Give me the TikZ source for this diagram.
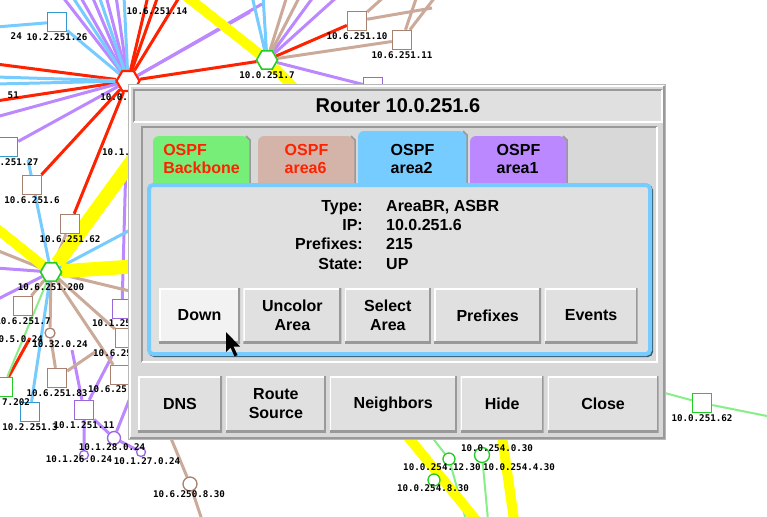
\documentclass[tikz,border=0pt]{standalone}
\usepackage{fontspec}
\setmainfont{Liberation Sans}
\newfontfamily\ipfont{DejaVu Sans Mono}
\usetikzlibrary{positioning,shapes.geometric}

\definecolor{ospfred}{HTML}{FF2200}
\definecolor{ospfgreen}{HTML}{77EE77}
\definecolor{hubgreen}{HTML}{22CC22}
\definecolor{linkgreen}{HTML}{88EE88}
\definecolor{ospftan}{HTML}{D4B4A8}
\definecolor{linktan}{HTML}{CCAA99}
\definecolor{sqtan}{HTML}{A88070}
\definecolor{ospfblue}{HTML}{77CCFF}
\definecolor{sqblue}{HTML}{3399CC}
\definecolor{ospfpurple}{HTML}{BB88FF}
\definecolor{sqpurple}{HTML}{9966DD}
\definecolor{linkyellow}{HTML}{FFFF00}
\definecolor{dlgframe}{HTML}{D8D8D8}
\definecolor{dlgpanel}{HTML}{E0E0E0}
\definecolor{dlglit}{HTML}{F2F2F2}
\definecolor{dlgshade}{HTML}{999999}

\pgfdeclarelayer{bg}
\pgfdeclarelayer{links}
\pgfsetlayers{bg,links,main}

\tikzset{hub/.style = {regular polygon, regular polygon sides=6, minimum size=21pt,
                       inner sep=0pt, draw=#1, line width=1.6pt, fill=white},
         hub/.default=hubgreen,
         rsq/.style = {rectangle, minimum size=19pt, inner sep=0pt, draw=#1,
                       line width=1.4pt, fill=white},
         rdot/.style = {circle, minimum size=12pt, inner sep=0pt, draw=#1,
                        line width=1.3pt, fill=white},
         ip/.style = {font=\ipfont\bfseries\fontsize{9.2}{10}\selectfont, inner sep=0pt},
         lnkbb/.style = {ospfred, line width=3pt},
         lnka6/.style = {linktan, line width=3pt},
         lnka2/.style = {ospfblue, line width=3pt},
         lnka1/.style = {ospfpurple, line width=3pt},
         lnkext/.style = {linkgreen, line width=2pt},
         lnkfat/.style = {linkyellow, line width=#1},
         lnkfat/.default=10pt
        }

\tikzset{dlgtext/.style = {font=\fontsize{16}{19}\selectfont\bfseries},
         btn/.style = {rectangle, fill=dlgpanel, inner sep=0pt, minimum height=55pt,
                       align=center, dlgtext,
                       path picture={
                         \draw[white, line width=3pt] (path picture bounding box.south west)
                           |- (path picture bounding box.north east);
                         \draw[dlgshade, line width=4pt] (path picture bounding box.south west)
                           -| (path picture bounding box.north east);}},
         tabtxt/.style = {align=left, inner sep=0pt, font=\fontsize{16}{18}\selectfont\bfseries},
         infokey/.style = {anchor=base east, inner sep=0pt, dlgtext},
         infoval/.style = {anchor=base west, inner sep=0pt, dlgtext}
        }

\begin{document}
\begin{tikzpicture}[x=1pt, y=-1pt]
  \begin{pgfonlayer}{bg}
    \fill[white] (0,0) rectangle (767,516);
  \end{pgfonlayer}
  \useasboundingbox (0,0) rectangle (767,516);

  % routers and networks of the map
  \node[hub=ospfred, minimum size=23pt, line width=2.2pt] (rtr) at (128,81) {};
  \node[hub] (g1) at (267,60) {};
  \node[hub] (g2) at (51,272) {};
  \node[rsq=sqblue] (b26) at (57,22) {};
  \node[rsq=sqblue] (b27) at (8,147) {};
  \node[rsq=sqtan] (t6) at (32,185) {};
  \node[rsq=sqtan] (t62) at (70,224) {};
  \node[rsq=sqtan] (t7) at (23,306) {};
  \node[rsq=sqpurple] (p25) at (122,309) {};
  \node[rdot=sqtan, minimum size=10pt] (c5) at (50,333) {};
  \node[rsq=sqtan] (t25) at (125,338) {};
  \node[rsq=hubgreen] (gs) at (3,387) {};
  \node[rsq=sqtan] (t83) at (57,378) {};
  \node[rsq=sqtan] (t37) at (120,375) {};
  \node[rsq=sqblue] (b3) at (30,412) {};
  \node[rsq=sqpurple] (p11) at (84,410) {};
  \node[rdot=sqpurple, minimum size=13pt] (pc) at (114,438) {};
  \node[rdot=sqpurple, minimum size=9pt] (pa) at (84,455) {};
  \node[rdot=sqpurple, minimum size=9pt] (pb) at (141,452) {};
  \node[rdot=sqtan, minimum size=14pt] (tc) at (190,484) {};
  \node[rsq=sqtan] (t10) at (357,21) {};
  \node[rsq=sqtan] (t11) at (402,40) {};
  \node[rsq=sqpurple] (p7) at (373,87) {};
  \node[rdot=hubgreen] (gc1) at (449,459) {};
  \node[rdot=hubgreen] (gc2) at (434,480) {};
  \node[rdot=hubgreen, minimum size=15pt] (gc3) at (482,455) {};
  \node[rsq=hubgreen] (gr) at (702,403) {};

  % addresses
  \node[ip, below=1.5pt of rtr] (lrtr) {10.0.251.6};
  \node[ip, below=1.5pt of g1] (lg1) {10.0.251.7};
  \node[ip, below=1.5pt of g2] (lg2) {10.6.251.200};
  \node[ip, below=1.5pt of b26] (lb26) {10.2.251.26};
  \node[ip, below=1.5pt of b27] (lb27) {10.2.251.27};
  \node[ip, below=1.5pt of t6] (lt6) {10.6.251.6};
  \node[ip, below=1.5pt of t62] (lt62) {10.6.251.62};
  \node[ip, below=1.5pt of t7] (lt7) {10.6.251.7};
  \node[ip, below=1.5pt of t83] (lt83) {10.6.251.83};
  \node[ip, below=1.5pt of b3] (lb3) {10.2.251.3};
  \node[ip, below=1.5pt of p11] (lp11) {10.1.251.11};
  \node[ip, below=1.5pt of t10] (lt10) {10.6.251.10};
  \node[ip, below=1.5pt of t11] (lt11) {10.6.251.11};
  \node[ip, below=1.5pt of gr] (lgr) {10.0.251.62};
  \node[ip] (l14) at (157,11) {10.6.251.14};
  \node[ip, anchor=east] (l24) at (22,36) {24};
  \node[ip, anchor=east] (l51) at (19,95) {51};
  \node[ip, anchor=west] (l101) at (102,152) {10.1.};
  \node[ip, anchor=west] (lp25) at (92,323) {10.1.25};
  \node[ip, anchor=west] (lt25) at (93,353) {10.6.25};
  \node[ip, anchor=west] (lt37) at (88,389) {10.6.25};
  \node[ip, anchor=west] (lgs) at (2,402) {7.202};
  \node[ip] (lc5) at (18,339) {10.5.0.24};
  \node[ip] (lc32) at (60,344) {10.32.0.24};
  \node[ip] (lpc) at (112,447) {10.1.28.0.24};
  \node[ip] (lpa) at (79,459) {10.1.26.0.24};
  \node[ip] (lpb) at (147,461) {10.1.27.0.24};
  \node[ip] (ltc) at (189,494) {10.6.250.8.30};
  \node[ip] (lgc0) at (497,448) {10.0.254.0.30};
  \node[ip] (lgc12) at (442,467) {10.0.254.12.30};
  \node[ip] (lgc4) at (519,467) {10.0.254.4.30};
  \node[ip] (lgc8) at (433,488) {10.0.254.8.30};

  \begin{pgfonlayer}{links}
    % backbone
    \foreach \ex/\ey [count=\i] in {-4/64, -4/101, 148/-4, 158/-4, 180/-4}
      {\coordinate (bbe\i) at (\ex,\ey); \draw[lnkbb] (rtr) -- (bbe\i);}
    \draw[lnkbb] (rtr) -- (g1)  (rtr) -- (t6)  (rtr) -- (t62)  (g1) -- (t10);
    \coordinate (bbx) at (30,338);
    \draw[lnkbb] (gs) -- (bbx);
    % area1
    \foreach \ex/\ey [count=\i] in {62/-4, 80/-4, 92/-4, 106/-4, 116/-4, -4/117, 250/12, 262/4}
      {\coordinate (ane\i) at (\ex,\ey); \draw[lnka1] (rtr) -- (ane\i);}
    \foreach \ex/\ey [count=\i] in {314/-4, 338/-4}
      {\coordinate (anf\i) at (\ex,\ey); \draw[lnka1] (g1) -- (anf\i);}
    \foreach \ex/\ey [count=\i] in {-4/268, -4/300}
      {\coordinate (ang\i) at (\ex,\ey); \draw[lnka1] (g2) -- (ang\i);}
    \coordinate (anp) at (126,160);
    \coordinate (anq) at (72,350);
    \coordinate (anr) at (112,356);
    \coordinate (ans) at (130,398);
    \draw[lnka1] (rtr) -- (b27)  (g1) -- (p7)  (anp) -- (p25)
      (p11) -- (anq)  (p11) -- (anr)  (p11) -- (pc)  (p11) -- (pa)  (pc) -- (pb)  (pc) -- (ans);
    % area2
    \foreach \ex/\ey [count=\i] in {72/-4, 99/-4, 124/-4, -4/77, -4/84}
      {\coordinate (bue\i) at (\ex,\ey); \draw[lnka2] (rtr) -- (bue\i);}
    \coordinate (buf) at (-4,27);
    \coordinate (bug1) at (252,-4);
    \coordinate (bug2) at (263,-4);
    \coordinate (buh1) at (28,160);
    \coordinate (buh2) at (134,228);
    \draw[lnka2] (rtr) -- (b26)  (b26) -- (buf)  (g1) -- (bug1)  (g1) -- (bug2)
      (g2) -- (buh1)  (g2) -- (buh2)  (g2) -- (b3);
    % area6
    \foreach \ex/\ey [count=\i] in {287/-4, 300/-4}
      {\coordinate (tne\i) at (\ex,\ey); \draw[lnka6] (g1) -- (tne\i);}
    \coordinate (tnf1) at (385,-4);
    \coordinate (tnf2) at (432,8);
    \coordinate (tng1) at (417,-4);
    \coordinate (tng2) at (436,-4);
    \coordinate (tnh1) at (-4,250);
    \coordinate (tnh2) at (134,292);
    \coordinate (tni) at (95,352);
    \coordinate (tnj1) at (170,436);
    \coordinate (tnj2) at (202,520);
    \draw[lnka6] (g1) -- (t11)  (t10) -- (tnf1)  (t10) -- (tnf2)  (t11) -- (tng1)  (t11) -- (tng2)
      (g2) -- (t62)  (g2) -- (t7)  (g2) -- (c5)  (g2) -- (t25)  (g2) -- (t37)
      (g2) -- (tnh1)  (g2) -- (tnh2)  (c5) -- (t83)  (t83) -- (tni)
      (tnj1) -- (tc)  (tc) -- (tnj2);
    % external
    \coordinate (exa) at (650,389);
    \coordinate (exb) at (772,417);
    \coordinate (exc) at (431,436);
    \coordinate (exd) at (466,520);
    \coordinate (exe) at (488,520);
    \draw[lnkext] (g2) -- (gs)  (exa) -- (gr)  (gr) -- (exb)
      (exc) -- (gc1)  (gc1) -- (exd)  (gc3) -- (exe);
    % trunks
    \coordinate (ya) at (186,-4);
    \coordinate (yb) at (304,98);
    \coordinate (yc) at (-4,228);
    \coordinate (yd) at (140,150);
    \coordinate (ye) at (140,266);
    \coordinate (yf) at (404,432);
    \coordinate (yg) at (476,520);
    \coordinate (yh) at (502,436);
    \coordinate (yi) at (514,520);
    \draw[lnkfat] (g1) -- (ya)  (g1) -- (yb)  (g2) -- (yc)  (yf) -- (yg)  (yh) -- (yi);
    \draw[lnkfat=14pt] (g2) -- (yd)  (g2) -- (ye);
  \end{pgfonlayer}

  % router window
  \filldraw[fill=dlgframe, draw=dlgshade!70] (128.5,84.5) rectangle (665.5,439.5);
  \draw[white, line width=1.5pt] (130,438) |- (664,86);
  \draw[dlgshade, line width=1.5pt] (130,438) -| (664,86);
  \fill[dlgpanel] (134,90) rectangle (662,122);
  \draw[dlgshade, line width=1.5pt] (134,122) |- (662,90);
  \draw[white, line width=1.5pt] (134,122) -| (662,90);
  \node[font=\fontsize{20}{24}\selectfont\bfseries] (title) at (398,106) {Router 10.0.251.6};

  % area tabs
  \fill[dlgframe] (142,127) rectangle (657,362);
  \draw[dlgshade, line width=1.5pt] (142,362) |- (657,127);
  \draw[white, line width=1.5pt] (142,362) -| (657,127);
  \fill[ospfgreen] (153,186) [rounded corners=6pt] -- (153,136) -- (247,136) [sharp corners] -- (250,139) -- (250,186) -- cycle;
  \draw[dlgshade, line width=1.5pt] (246,136) -- (250,140) -- (250,184);
  \fill[ospftan] (258,186) [rounded corners=6pt] -- (258,136) -- (352,136) [sharp corners] -- (355,139) -- (355,186) -- cycle;
  \draw[dlgshade, line width=1.5pt] (351,136) -- (355,140) -- (355,184);
  \fill[ospfblue] (358,186) [rounded corners=6pt] -- (358,131) -- (464,131) [sharp corners] -- (467,134) -- (467,186) -- cycle;
  \draw[dlgshade, line width=1.5pt] (463,131) -- (467,135) -- (467,184);
  \fill[ospfpurple] (470,186) [rounded corners=6pt] -- (470,136) -- (564,136) [sharp corners] -- (567,139) -- (567,186) -- cycle;
  \draw[dlgshade, line width=1.5pt] (563,136) -- (567,140) -- (567,184);
  \node[tabtxt, text=ospfred] (tabbb) at (201.5,159) {OSPF\\Backbone};
  \node[tabtxt, text=ospfred] (taba6) at (306.5,159) {OSPF\\area6};
  \node[tabtxt] (taba2) at (412.5,159) {OSPF\\area2};
  \node[tabtxt] (taba1) at (518.5,159) {OSPF\\area1};

  % page of the open tab
  \fill[ospfblue!45!black, rounded corners=5pt] (149,185) rectangle (653,357);
  \filldraw[fill=dlgpanel, draw=ospfblue, line width=4pt, rounded corners=4pt] (149,185) rectangle (650,354);
  \foreach \k/\v [count=\r] in {Type:/{AreaBR, ASBR}, IP:/10.0.251.6, Prefixes:/215, State:/UP}
    {\node[infokey] (key\r) at (363,192+19.3*\r) {\k};
     \node[infoval] (val\r) at (386,192+19.3*\r) {\v};}
  \node[btn, minimum width=81pt, fill=dlglit] (bdown) at (199.5,315.5) {Down};
  \node[btn, minimum width=98pt, right=3pt of bdown] (buncolor) {Uncolor\\Area};
  \node[btn, minimum width=86pt, right=3pt of buncolor] (bselect) {Select\\Area};
  \node[btn, minimum width=107pt, right=3pt of bselect] (bprefix) {Prefixes};
  \node[btn, minimum width=93pt, right=3pt of bprefix] (bevents) {Events};

  % window buttons
  \node[btn, minimum width=84pt, minimum height=56pt] (bdns) at (180,404) {DNS};
  \node[btn, minimum width=100pt, minimum height=56pt, right=3.5pt of bdns] (broute) {Route\\Source};
  \node[btn, minimum width=127pt, minimum height=56pt, right=3.5pt of broute] (bneigh) {Neighbors};
  \node[btn, minimum width=83pt, minimum height=56pt, right=3.5pt of bneigh] (bhide) {Hide};
  \node[btn, minimum width=111pt, minimum height=56pt, right=3.5pt of bhide] (bclose) {Close};

  % mouse pointer
  \fill[black] (226,332) -- (226,352) -- (230.5,347.5) -- (234.5,356.5) -- (237.5,355)
    -- (233.5,346.5) -- (240,346.5) -- cycle;
\end{tikzpicture}
\end{document}
